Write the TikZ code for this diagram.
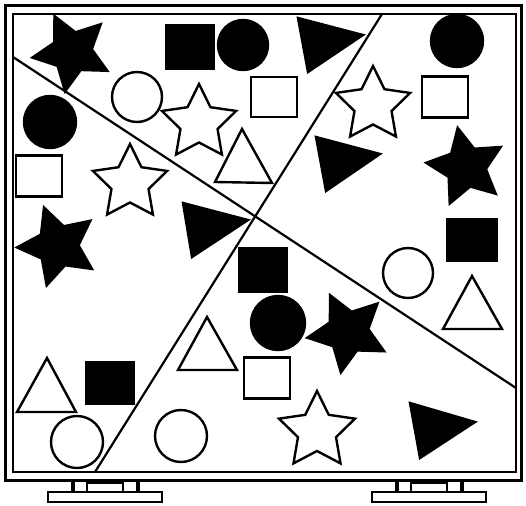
\documentclass[tikz,border=0pt]{standalone}
\usetikzlibrary{shapes.geometric}

\tikzset{
    blk/.style = {fill=black, draw=black, line width=2.4pt, inner sep=0pt},
    wht/.style = {fill=white, draw=black, line width=2.4pt, inner sep=0pt},
    starshape/.style = {star, star points=5, star point ratio=2.0, minimum size=#1},
    box/.style 2 args = {rectangle, minimum width=#1, minimum height=#2},
}

\begin{document}
\begin{tikzpicture}[x=1pt, y=-1pt]
    \useasboundingbox (0,0) rectangle (526,505);

    % board and feet
    \draw[line width=3pt] (5,6) rectangle (521,480);
    \draw[line width=2.4pt] (13,14) rectangle (516,472);
    \foreach \dx in {0,324} {
        \draw[line width=2.4pt] ({48+\dx},492) rectangle ({162+\dx},502);
        \draw[line width=2.4pt] ({87+\dx},483) rectangle ({123+\dx},492);
        \draw[line width=4pt] ({73+\dx},480) -- ({73+\dx},492);
        \draw[line width=4pt] ({138+\dx},480) -- ({138+\dx},492);
    }

    % top part
    \node[blk, starshape=80pt, rotate=26] (starA) at (72,52) {};
    \node[blk, box={47pt}{43pt}] (sqA) at (190,47) {};
    \node[blk, circle, minimum size=50pt] (cA) at (243,45) {};
    \filldraw[blk] (298,18) -- (363,35) -- (308,72) -- cycle;
    \node[wht, circle, minimum size=50pt] (cB) at (137,97) {};
    \node[wht, starshape=78pt] (starB) at (199,123) {};
    \node[wht, box={46pt}{40pt}] (sqB) at (274,97) {};
    \filldraw[wht] (242,129) -- (215,182) -- (272,183) -- cycle;

    % right part
    \node[blk, circle, minimum size=52pt] (cC) at (457,41) {};
    \node[wht, starshape=78pt] (starC) at (373,105) {};
    \node[wht, box={46pt}{41pt}] (sqC) at (445,97) {};
    \filldraw[blk] (316,137) -- (380,154) -- (326,191) -- cycle;
    \node[blk, starshape=80pt, rotate=12] (starD) at (466,167) {};
    \node[blk, box={50pt}{42pt}] (sqD) at (472,240) {};
    \node[wht, circle, minimum size=50pt] (cD) at (408,273) {};
    \filldraw[wht] (472,276) -- (443,329) -- (502,329) -- cycle;

    % left part
    \node[blk, circle, minimum size=52pt] (cE) at (50,122) {};
    \node[wht, box={46pt}{41pt}] (sqE) at (39,176) {};
    \node[wht, starshape=78pt] (starE) at (130,183) {};
    \filldraw[blk] (183,203) -- (248,220) -- (192,257) -- cycle;
    \node[blk, starshape=82pt, rotate=20] (starF) at (58,246) {};
    \filldraw[wht] (47,358) -- (17,412) -- (76,412) -- cycle;
    \node[blk, box={48pt}{41pt}] (sqF) at (110,383) {};
    \node[wht, circle, minimum size=52pt] (cF) at (77,442) {};

    % bottom part
    \node[blk, box={48pt}{43pt}] (sqG) at (263,270) {};
    \node[blk, circle, minimum size=54pt] (cG) at (278,323) {};
    \node[blk, starshape=82pt, rotate=26] (starG) at (348,332) {};
    \filldraw[wht] (207,317) -- (178,370) -- (237,370) -- cycle;
    \node[wht, box={46pt}{41pt}] (sqH) at (267,378) {};
    \node[wht, circle, minimum size=52pt] (cH) at (181,436) {};
    \node[wht, starshape=80pt] (starH) at (317,431) {};
    \filldraw[blk] (410,403) -- (475,422) -- (420,458) -- cycle;

    % the two cuts
    \coordinate (cutAa) at (13,57);
    \coordinate (cutAb) at (516,388);
    \coordinate (cutBa) at (382,14);
    \coordinate (cutBb) at (95,472);
    \draw[line width=2.2pt] (cutAa) -- (cutAb);
    \draw[line width=2.2pt] (cutBa) -- (cutBb);
\end{tikzpicture}
\end{document}
